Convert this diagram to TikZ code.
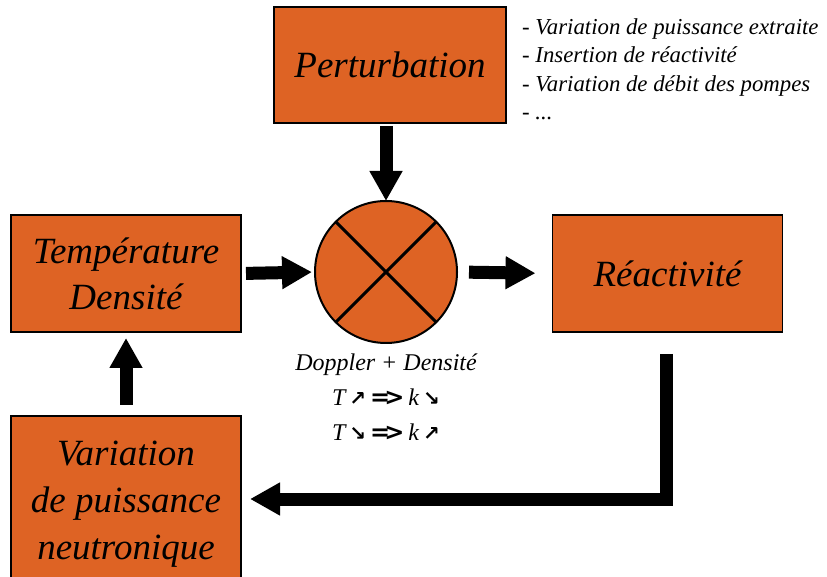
\documentclass[tikz,border=0pt]{standalone}
\usepackage{fontspec}
\setmainfont{Liberation Serif}
\newfontfamily\symfont{DejaVu Sans}
\usetikzlibrary{arrows.meta}

\definecolor{boxorange}{RGB}{222,99,36}

\newcommand{\upar}{{\symfont\bfseries\fontsize{20}{20}\selectfont ↗}}
\newcommand{\dnar}{{\symfont\bfseries\fontsize{20}{20}\selectfont ↘}}
\newcommand{\impl}{{\symfont\bfseries =\kern-0.25em>}}

\begin{document}
\begin{tikzpicture}[line join=miter,>={Triangle[length=30pt,width=31pt]},x=1pt,y=1pt,
  block/.style={draw=black,line width=1.5pt,fill=boxorange,inner sep=0pt,outer sep=0pt,
    align=center,font=\fontsize{37}{46}\selectfont\itshape},
  fat/.style={->,line width=13pt}]

\def\bw{230} %box width
\def\bh{117} %box height
\def\rr{71} %comparator radius

\useasboundingbox (0,0) rectangle (827,576);

%boxes
\node[block,minimum width=232pt,minimum height=116pt] (pert) at (390,511) {Perturbation};
\node[block,minimum width=\bw pt,minimum height=\bh pt] (temp) at (126,302.5) {Température\\Densité};
\node[block,minimum width=\bw pt,minimum height=\bh pt] (reac) at (667.5,302.5) {Réactivité};
\node[block,minimum width=\bw pt,minimum height=176pt,font=\fontsize{37}{47}\selectfont\itshape] (var) at (126,72) {Variation\\de puissance\\neutronique};

%comparator
\node[circle,draw=black,line width=2pt,fill=boxorange,minimum size=2*\rr pt,inner sep=0pt,outer sep=0pt] (sum) at (386,304) {};
\draw[line width=3pt] (sum.north west) -- (sum.south east);
\draw[line width=3pt] (sum.north east) -- (sum.south west);

%texts
\node[anchor=west,align=left,inner sep=0pt,font=\fontsize{22.8}{28.5}\selectfont\itshape] (list) at (522,506.5)
  {- Variation de puissance extraite\\- Insertion de réactivité\\- Variation de débit des pompes\\- ...};
\node[align=center,inner sep=0pt,font=\fontsize{24}{35}\selectfont\itshape] (rule) at (386,179)
  {Doppler + Densité\\
   T\,\upar\,\impl\,k\,\dnar\\
   T\,\dnar\,\impl\,k\,\upar};

%arrows
\draw[fat] ([yshift=-3pt]sum.north |- pert.south) -- (sum.north);
\draw[fat,shorten <=5pt,shorten >=3pt] (temp.east) -- (sum.west);
\draw[fat,shorten <=12pt,shorten >=17pt] (sum.east) -- (reac.west);
\draw[fat,shorten <=11pt,shorten >=6pt] (var.north) -- (temp.south);
\draw[fat] ([xshift=-1.5pt,yshift=-22pt]reac.south) |- ([xshift=9pt,yshift=5pt]var.east);
\end{tikzpicture}
\end{document}
